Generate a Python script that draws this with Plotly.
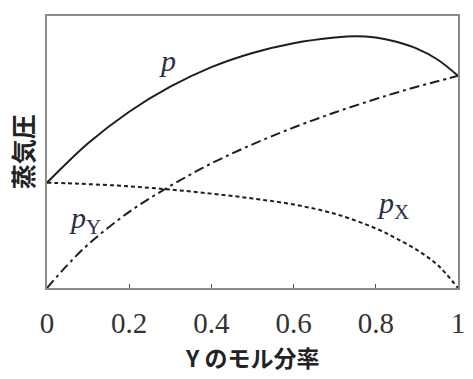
import plotly.graph_objects as go

# mole fraction of Y
x_frac = [0, 0.05, 0.1, 0.2, 0.3, 0.4, 0.5, 0.6, 0.7, 0.8, 0.85, 0.9, 0.95, 1.0]
p_x = [0.387, 0.385, 0.382, 0.374, 0.362, 0.347, 0.329, 0.307, 0.273, 0.219, 0.182, 0.14, 0.085, 0.0]
p_y = [0.0, 0.085, 0.16, 0.28, 0.375, 0.458, 0.528, 0.59, 0.645, 0.695, 0.718, 0.74, 0.76, 0.78]

x_frac_p = [0, 0.1, 0.2, 0.3, 0.4, 0.5, 0.6, 0.7, 0.75, 0.8, 0.85, 0.9, 0.95, 1.0]
p_total = [0.387, 0.532, 0.648, 0.74, 0.812, 0.864, 0.9, 0.921, 0.926, 0.921, 0.905, 0.88, 0.84, 0.78]

tick_vals = [0, 0.2, 0.4, 0.6, 0.8, 1]
tick_text = ["0", "0.2", "0.4", "0.6", "0.8", "1"]

line_col = "#1e1e1e"
fig = go.Figure()
fig.add_trace(go.Scatter(x=x_frac_p, y=p_total, mode="lines",
                         line=dict(color=line_col, width=2, shape="spline", smoothing=1)))
fig.add_trace(go.Scatter(x=x_frac, y=p_y, mode="lines",
                         line=dict(color=line_col, width=2, shape="spline", smoothing=1,
                                   dash="10px,4px,3px,4px")))
fig.add_trace(go.Scatter(x=x_frac, y=p_x, mode="lines",
                         line=dict(color=line_col, width=2, shape="spline", smoothing=1,
                                   dash="4px,3px")))

label_font = dict(family="Liberation Serif", size=30, color="#2a2f45")
fig.add_annotation(x=0.293, y=0.835, text="<i>p</i>", showarrow=False, font=label_font)
fig.add_annotation(x=0.093, y=0.25, text="<i>p</i><sub>Y</sub>", showarrow=False, font=label_font)
fig.add_annotation(x=0.843, y=0.305, text="<i>p</i><sub>X</sub>", showarrow=False, font=label_font)

fig.add_annotation(xref="paper", yref="paper", x=0.5, y=-0.255, text="<b>Y のモル分率</b>",
                   showarrow=False, yanchor="middle",
                   font=dict(family="Noto Sans CJK JP", size=23, color="#222"))
fig.add_annotation(xref="paper", yref="paper", x=-0.06, y=0.5, text="<b>蒸気圧</b>",
                   showarrow=False, textangle=-90, xanchor="center", yanchor="middle",
                   font=dict(family="Noto Sans CJK JP", size=25, color="#222"))

fig.update_xaxes(range=[0, 1], tickvals=tick_vals, ticktext=tick_text,
                 showgrid=False, zeroline=False, showline=True, mirror=True,
                 linecolor="#8a8a8a", linewidth=1.5,
                 ticks="inside", ticklen=4, tickcolor="#555", tickwidth=1,
                 ticklabelstandoff=8,
                 tickfont=dict(family="Liberation Serif", size=29, color="#333"))
fig.update_yaxes(range=[0, 1], showticklabels=False, ticks="",
                 showgrid=False, zeroline=False, showline=True, mirror=True,
                 linecolor="#8a8a8a", linewidth=1.5)

# page body has an 8px margin, so the figure is offset by (8, 8)
fig.update_layout(width=465, height=371, showlegend=False,
                  margin=dict(l=39, r=15, t=8, b=91, autoexpand=False),
                  paper_bgcolor="white", plot_bgcolor="white")

fig.write_html("out.html")
